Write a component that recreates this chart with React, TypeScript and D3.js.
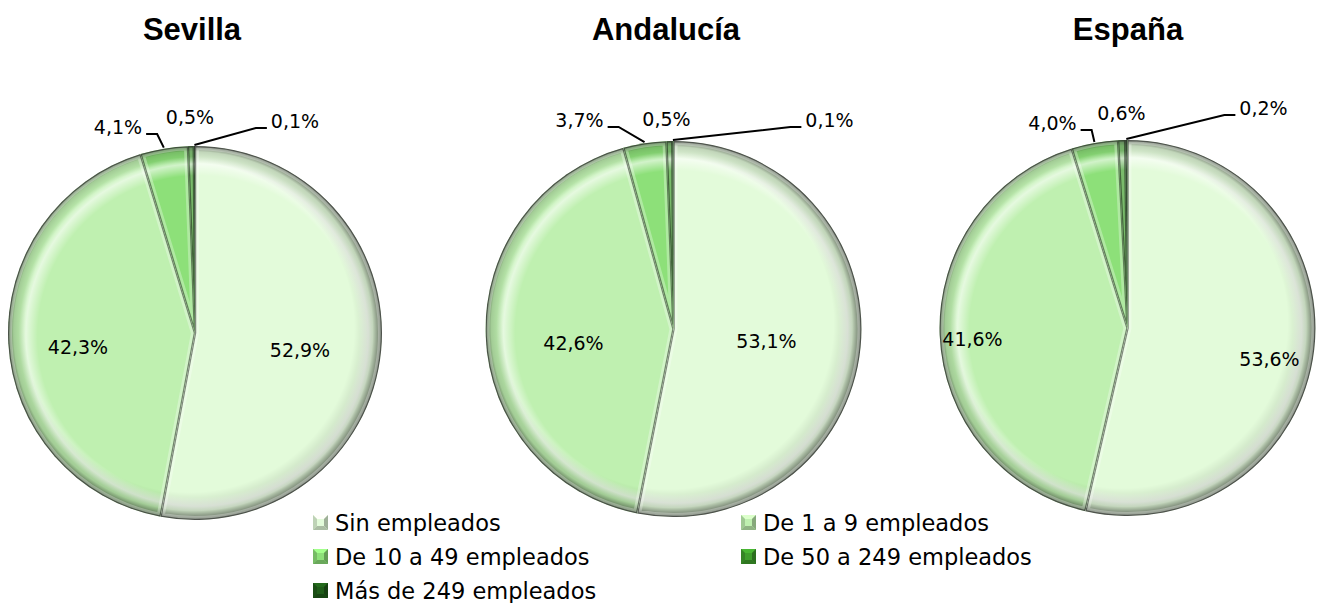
import React from "react";
import * as d3 from "d3";

const categories = [
  "Sin empleados",
  "De 1 a 9 empleados",
  "De 10 a 49 empleados",
  "De 50 a 249 empleados",
  "Más de 249 empleados",
];
const regions = ["Sevilla", "Andalucía", "España"];
const sevilla = [52.9, 42.3, 4.1, 0.5, 0.1];
const andalucia = [53.1, 42.6, 3.7, 0.5, 0.1];
const espana = [53.6, 41.6, 4.0, 0.6, 0.2];
const seriesByRegion = [sevilla, andalucia, espana];

const colors = ["#e3fbda", "#bff0b0", "#8de079", "#3f9e2c", "#1f5c18"];

// layout of each pie: center and radius
const pies = [
  { cx: 195, cy: 333, r: 187, titleX: 192 },
  { cx: 673.5, cy: 329, r: 188, titleX: 666 },
  { cx: 1127.5, cy: 328, r: 188, titleX: 1128 },
];
// label offsets from the pie center (text centre)
const labelPos = [
  [[105, 17], [-117, 14], [-77, -206], [-5, -216], [100, -212]],
  [[93, 12], [-100, 14], [-94, -209], [-7, -210], [156, -209]],
  [[142, 31], [-155, 11], [-75, -205], [-6, -215], [136, -220]],
];
const leaders = [false, false, true, false, true];

const fmt = (v: number) => v.toFixed(1).replace(".", ",") + "%";
const textW = (s: string, fs: number) => {
  const w: Record<string, number> = { ",": 0.318, "%": 0.95 };
  return s.split("").reduce((a, c) => a + (w[c] ?? 0.636), 0) * fs;
};

const LegendSwatch = ({ x, y, color }: { x: number; y: number; color: string }) => {
  const s = 15;
  const b = 4;
  const c = d3.color(color)!;
  return (
    <g transform={`translate(${x},${y})`}>
      <rect width={s} height={s} fill={color} />
      <path d={`M0,0 L${s},0 L${s - b},${b} L${b},${b} Z`} fill={c.brighter(0.4).formatHex()} />
      <path d={`M0,0 L${b},${b} L${b},${s - b} L0,${s} Z`} fill={c.darker(0.5).formatHex()} />
      <path d={`M${s},0 L${s},${s} L${s - b},${s - b} L${s - b},${b} Z`} fill={c.darker(1.0).formatHex()} />
      <path d={`M0,${s} L${s},${s} L${s - b},${s - b} L${b},${s - b} Z`} fill={c.darker(0.8).formatHex()} />
    </g>
  );
};

const Pie = ({ idx }: { idx: number }) => {
  const data = seriesByRegion[idx];
  const { cx, cy, r, titleX } = pies[idx];
  const arcs = d3.pie<number>().sort(null).value((d) => d)(data);
  const arc = d3.arc<d3.PieArcDatum<number>>().innerRadius(0).outerRadius(r);
  const gid = `g${idx}`;
  return (
    <g>
      <defs>
        {/* dark rim, wider towards the bottom right */}
        <radialGradient id={`${gid}dark`} gradientUnits="userSpaceOnUse" cx={0} cy={0} r={r} fx={-45} fy={-45}>
          <stop offset="0" stopColor="#000" stopOpacity={0} />
          <stop offset="0.88" stopColor="#000" stopOpacity={0} />
          <stop offset="0.96" stopColor="#000" stopOpacity={0.15} />
          <stop offset="1" stopColor="#000" stopOpacity={0.6} />
        </radialGradient>
        {/* light band, stronger towards the top left */}
        <radialGradient id={`${gid}light`} gradientUnits="userSpaceOnUse" cx={0} cy={0} r={r} fx={25} fy={25}>
          <stop offset="0" stopColor="#fff" stopOpacity={0} />
          <stop offset="0.86" stopColor="#fff" stopOpacity={0} />
          <stop offset="0.915" stopColor="#fff" stopOpacity={0.6} />
          <stop offset="0.95" stopColor="#fff" stopOpacity={0} />
          <stop offset="1" stopColor="#fff" stopOpacity={0} />
        </radialGradient>
        {arcs.map((a, i) => (
          <clipPath id={`${gid}c${i}`} key={i}>
            <path d={arc(a) || ""} />
          </clipPath>
        ))}
      </defs>
      <text x={titleX} y={40} textAnchor="middle" fontFamily="'Liberation Sans', Arial, sans-serif" fontWeight="bold" fontSize={31} fill="#000">
        {regions[idx]}
      </text>
      <g transform={`translate(${cx},${cy})`}>
        {arcs.map((a, i) => (
          <g key={i}>
            <path d={arc(a) || ""} fill={colors[i]} />
            <g clipPath={`url(#${gid}c${i})`}>
              <path d={arc(a) || ""} fill={`url(#${gid}light)`} />
              <path d={arc(a) || ""} fill={`url(#${gid}dark)`} />
              <path d={arc(a) || ""} fill="none" stroke="#fff" strokeOpacity={0.3} strokeWidth={8} />
              <path d={arc(a) || ""} fill="none" stroke="#000" strokeOpacity={0.45} strokeWidth={2.5} />
            </g>
          </g>
        ))}
      </g>
      {arcs.map((a, i) => {
        const [dx, dy] = labelPos[idx][i];
        const lx = cx + dx;
        const ly = cy + dy;
        const label = fmt(data[i]);
        let leader = null;
        if (leaders[i]) {
          const mid = (a.startAngle + a.endAngle) / 2;
          const px = cx + Math.sin(mid) * (r + 1);
          const py = cy - Math.cos(mid) * (r + 1);
          const hw = textW(label, 19) / 2;
          const side = lx < px ? 1 : -1;
          const x0 = lx + side * (hw + 4);
          const x1 = lx + side * (hw + 15);
          const yl = ly + 7;
          leader = (
            <polyline points={`${x0},${yl} ${x1},${yl} ${px},${py}`} fill="none" stroke="#000" strokeWidth={2} />
          );
        }
        return (
          <g key={`l${i}`}>
            {leader}
            <text x={lx} y={ly} textAnchor="middle" dominantBaseline="central" fontFamily="'DejaVu Sans', sans-serif" fontSize={19} fill="#000">
              {label}
            </text>
          </g>
        );
      })}
    </g>
  );
};

const legendCols = [313, 741];
const legendRows = [523, 557, 591];

export default function App() {
  return (
    <svg width={1326} height={603} style={{ position: "absolute", left: 0, top: 0, background: "#fff" }}>
      {regions.map((_, i) => (
        <Pie idx={i} key={i} />
      ))}
      {categories.map((c, i) => {
        const x = legendCols[i % 2];
        const y = legendRows[Math.floor(i / 2)];
        return (
          <g key={c}>
            <LegendSwatch x={x} y={y - 8} color={colors[i]} />
            <text x={x + 22} y={y} dominantBaseline="central" fontFamily="'DejaVu Sans', sans-serif" fontSize={22.5} fill="#000">
              {c}
            </text>
          </g>
        );
      })}
    </svg>
  );
}
